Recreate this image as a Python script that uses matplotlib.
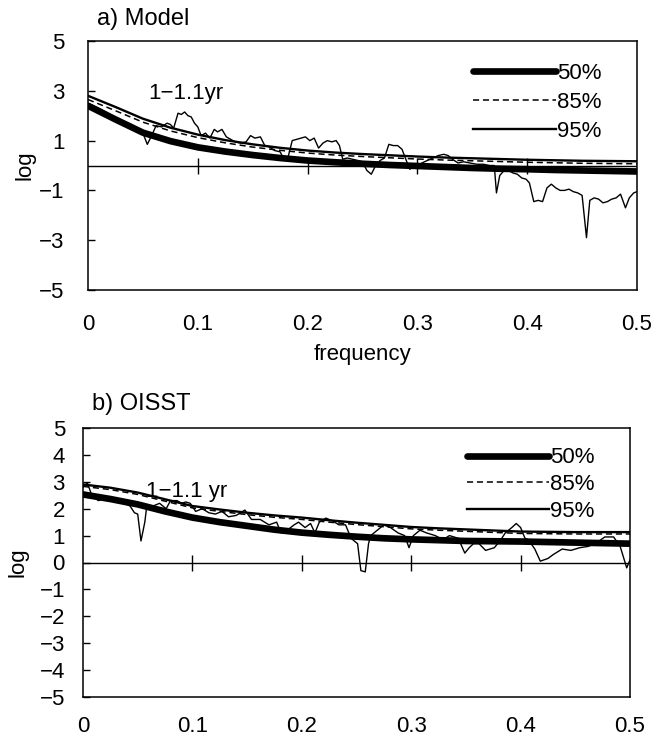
import matplotlib
matplotlib.use("Agg")
import matplotlib.pyplot as plt

plt.rcParams['font.family'] = ['Liberation Sans', 'DejaVu Sans']

# ---- data ----
freq_curve = [0.0, 0.025, 0.05, 0.075, 0.1, 0.125, 0.15, 0.175, 0.2, 0.225, 0.25,
              0.275, 0.3, 0.325, 0.35, 0.375, 0.4, 0.425, 0.45, 0.475, 0.5]

a_50 = [2.4, 1.85, 1.32, 0.98, 0.73, 0.56, 0.42, 0.3, 0.2, 0.13, 0.07,
        0.02, -0.02, -0.06, -0.1, -0.13, -0.15, -0.18, -0.2, -0.22, -0.24]
a_85 = [2.65, 2.2, 1.74, 1.39, 1.12, 0.91, 0.74, 0.61, 0.5, 0.42, 0.36,
        0.31, 0.26, 0.22, 0.19, 0.16, 0.13, 0.11, 0.09, 0.08, 0.07]
a_95 = [2.8, 2.35, 1.88, 1.52, 1.24, 1.02, 0.85, 0.71, 0.6, 0.52, 0.46,
        0.41, 0.36, 0.32, 0.29, 0.26, 0.23, 0.21, 0.19, 0.18, 0.17]

b_50 = [2.53, 2.36, 2.16, 1.9, 1.67, 1.5, 1.36, 1.22, 1.11, 1.03, 0.96,
        0.9, 0.86, 0.83, 0.8, 0.79, 0.78, 0.76, 0.74, 0.72, 0.7]
b_85 = [2.83, 2.71, 2.53, 2.28, 2.03, 1.9, 1.78, 1.68, 1.6, 1.5, 1.41,
        1.33, 1.25, 1.2, 1.16, 1.12, 1.08, 1.07, 1.06, 1.06, 1.06]
b_95 = [2.9, 2.78, 2.6, 2.35, 2.1, 1.97, 1.85, 1.75, 1.67, 1.57, 1.48,
        1.4, 1.32, 1.27, 1.23, 1.19, 1.15, 1.14, 1.13, 1.13, 1.13]

freq_a = [0.000, 0.005, 0.012, 0.020, 0.028, 0.036, 0.044, 0.050, 0.054, 0.058,
          0.062, 0.067, 0.072, 0.075, 0.078, 0.082, 0.085, 0.088, 0.091, 0.094,
          0.097, 0.100, 0.103, 0.107, 0.111, 0.115, 0.118, 0.122, 0.126, 0.130,
          0.134, 0.139, 0.144, 0.148, 0.152, 0.157, 0.161, 0.165, 0.170, 0.175,
          0.179, 0.182, 0.186, 0.190, 0.194, 0.198, 0.202, 0.206, 0.210, 0.214,
          0.218, 0.222, 0.226, 0.229, 0.232, 0.236, 0.241, 0.246, 0.250, 0.254,
          0.258, 0.262, 0.266, 0.270, 0.274, 0.278, 0.282, 0.286, 0.289, 0.293,
          0.297, 0.300, 0.304, 0.309, 0.314, 0.319, 0.324, 0.328, 0.332, 0.337,
          0.342, 0.348, 0.354, 0.360, 0.366, 0.370, 0.372, 0.375, 0.379, 0.383,
          0.387, 0.391, 0.395, 0.399, 0.402, 0.406, 0.410, 0.414, 0.418, 0.422,
          0.426, 0.430, 0.434, 0.438, 0.442, 0.446, 0.450, 0.454, 0.457, 0.461,
          0.465, 0.469, 0.473, 0.477, 0.481, 0.485, 0.4895, 0.493, 0.497, 0.500]
spec_a = [2.5, 2.4, 2.25, 2.05, 1.85, 1.6, 1.4, 1.3, 0.85, 1.2,
          1.6, 1.55, 1.7, 1.65, 1.5, 2.1, 2.05, 2.15, 2.0, 1.95,
          1.7, 1.55, 1.2, 1.3, 1.1, 1.45, 1.35, 1.45, 1.15, 1.05,
          0.95, 0.9, 0.95, 1.2, 1.1, 1.15, 0.8, 0.75, 0.6, 0.55,
          0.2, 0.3, 1.0, 1.05, 1.1, 1.15, 1.0, 1.1, 0.7, 0.9,
          1.0, 0.95, 1.0, 0.8, 0.25, 0.3, 0.25, 0.2, 0.15, -0.2,
          -0.35, 0.0, 0.2, 0.3, 0.85, 0.8, 0.8, 0.65, 0.3, -0.15,
          -0.05, -0.1, 0.1, 0.2, 0.3, 0.4, 0.45, 0.4, 0.25, 0.1,
          0.15, 0.1, 0.05, 0.05, 0.0, 0.0, -1.1, -0.4, -0.2, -0.2,
          -0.3, -0.35, -0.5, -0.55, -0.7, -1.45, -1.4, -1.45, -0.9, -0.75,
          -0.9, -1.0, -1.0, -0.95, -1.05, -1.1, -1.2, -2.9, -1.4, -1.3,
          -1.35, -1.5, -1.45, -1.35, -1.3, -1.15, -1.7, -1.3, -1.1, -1.05]

freq_b = [0.000, 0.004, 0.008, 0.014, 0.022, 0.033, 0.043, 0.047, 0.050, 0.053,
          0.0565, 0.058, 0.064, 0.070, 0.076, 0.080, 0.086, 0.090, 0.094, 0.098,
          0.103, 0.109, 0.115, 0.121, 0.127, 0.133, 0.140, 0.148, 0.154, 0.162,
          0.170, 0.177, 0.181, 0.185, 0.193, 0.197, 0.203, 0.208, 0.212, 0.216,
          0.222, 0.228, 0.234, 0.240, 0.245, 0.251, 0.254, 0.258, 0.261, 0.263,
          0.269, 0.275, 0.281, 0.288, 0.294, 0.298, 0.302, 0.308, 0.314, 0.322,
          0.329, 0.335, 0.343, 0.349, 0.353, 0.357, 0.362, 0.368, 0.376, 0.382,
          0.386, 0.392, 0.396, 0.400, 0.404, 0.407, 0.413, 0.418, 0.425, 0.430,
          0.438, 0.446, 0.454, 0.462, 0.470, 0.477, 0.485, 0.491, 0.497, 0.500]
spec_b = [2.8, 2.96, 2.5, 2.3, 2.4, 2.3, 2.1, 1.85, 1.8, 0.8,
          1.5, 2.0, 2.1, 2.2, 2.0, 2.3, 2.3, 2.2, 2.25, 2.2,
          1.9, 2.0, 1.85, 1.8, 1.9, 1.7, 1.75, 1.95, 1.6, 1.6,
          1.4, 1.5, 1.1, 1.15, 1.4, 1.5, 1.3, 1.45, 1.1, 1.5,
          1.65, 1.55, 1.4, 1.4, 0.9, 0.7, -0.3, -0.35, 0.7, 1.0,
          1.2, 1.4, 1.3, 1.1, 1.0, 0.55, 1.0, 1.2, 1.1, 1.0,
          0.85, 1.0, 0.9, 0.35, 0.55, 0.7, 0.7, 0.45, 0.55, 0.85,
          1.1, 1.3, 1.45, 1.3, 0.9, 0.85, 0.5, 0.05, 0.15, 0.3,
          0.5, 0.45, 0.55, 0.6, 0.75, 0.95, 0.95, 0.6, -0.2, 0.1]

xticks = [0, 0.1, 0.2, 0.3, 0.4, 0.5]
xticklabels = ['0', '0.1', '0.2', '0.3', '0.4', '0.5']
yticks_a = [5, 3, 1, -1, -3, -5]
yticks_b = [5, 4, 3, 2, 1, 0, -1, -2, -3, -4, -5]
legend_labels = ['50%', '85%', '95%']

assert len(freq_a) == len(spec_a), (len(freq_a), len(spec_a))
assert len(freq_b) == len(spec_b), (len(freq_b), len(spec_b))

W, H = 669, 739
fig = plt.figure(figsize=(W / 100, H / 100), dpi=100)


def px_axes(l, r, t, b):
    return fig.add_axes([l / W, 1 - b / H, (r - l) / W, (b - t) / H])


ax_a = px_axes(88, 637, 41, 290)
ax_b = px_axes(83, 630, 428, 697)

FS = 16


def draw(ax, fspec, spec, c50, c85, c95, yticks, ytickpad, xtickpad, title,
         ann_xy, leg_anchor, leg_spacing):
    ax.plot(fspec, spec, color='black', lw=1.0, zorder=3)
    l50, = ax.plot(freq_curve, c50, color='black', lw=4.8, solid_capstyle='round', zorder=2)
    l85, = ax.plot(freq_curve, c85, color='black', lw=1.1, ls=(0, (4, 2.5)), zorder=2)
    l95, = ax.plot(freq_curve, c95, color='black', lw=1.7, zorder=2)
    ax.axhline(0, color='black', lw=1.0, zorder=1)
    ax.plot(xticks[1:-1], [0] * (len(xticks) - 2), ls='none', marker='|',
            ms=11, mew=1.0, color='black', zorder=1)
    ax.set_xlim(0, 0.5)
    ax.set_ylim(-5, 5)
    ax.set_xticks(xticks)
    ax.set_xticklabels(xticklabels)
    ax.set_yticks(yticks)
    ax.set_yticklabels([str(v).replace('-', '\u2212') for v in yticks])
    ax.tick_params(axis='x', length=0, pad=xtickpad, labelsize=FS)
    ax.tick_params(axis='y', direction='in', length=5, width=1, pad=ytickpad, labelsize=FS)
    for s in ax.spines.values():
        s.set_linewidth(1.1)
    ax.set_ylabel('log', fontsize=FS)
    ax.text(0.016, 1.088, title, transform=ax.transAxes, fontsize=FS + 1,
            ha='left', va='center')
    ax.text(ann_xy[0], ann_xy[1], ann_xy[2], fontsize=FS, ha='center', va='center')
    ax.legend([l50, l85, l95], legend_labels, loc='upper right',
              bbox_to_anchor=leg_anchor, frameon=False, fontsize=FS,
              handlelength=3.7, handletextpad=0.05, labelspacing=leg_spacing,
              borderpad=0, borderaxespad=0)


draw(ax_a, freq_a, spec_a, a_50, a_85, a_95, yticks_a, 17, 17, 'a) Model',
     (0.089, 2.9, '1\u22121.1yr'), (0.935, 0.912), 0.36)
draw(ax_b, freq_b, spec_b, b_50, b_85, b_95, yticks_b, 13, 14, 'b) OISST',
     (0.095, 2.65, '1\u22121.1 yr'), (0.935, 0.928), 0.26)

ax_a.set_xlabel('frequency', fontsize=FS, labelpad=7)
ax_a.yaxis.set_label_coords(-0.095, 0.5)
ax_b.yaxis.set_label_coords(-0.1, 0.5)

fig.savefig('out.png', dpi=100)
